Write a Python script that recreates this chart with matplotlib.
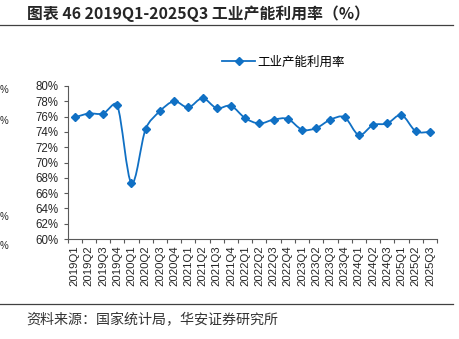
import numpy as np
import matplotlib
matplotlib.use('Agg')
from matplotlib import pyplot as plt
from matplotlib.path import Path
from matplotlib.patches import PathPatch
from matplotlib.lines import Line2D

quarters = ['2019Q1', '2019Q2', '2019Q3', '2019Q4',
            '2020Q1', '2020Q2', '2020Q3', '2020Q4',
            '2021Q1', '2021Q2', '2021Q3', '2021Q4',
            '2022Q1', '2022Q2', '2022Q3', '2022Q4',
            '2023Q1', '2023Q2', '2023Q3', '2023Q4',
            '2024Q1', '2024Q2', '2024Q3',
            '2025Q1', '2025Q2', '2025Q3']
utilization = [75.9, 76.4, 76.4, 77.5,
               67.3, 74.4, 76.7, 78.0,
               77.2, 78.4, 77.1, 77.4,
               75.8, 75.1, 75.6, 75.7,
               74.3, 74.5, 75.6, 75.9,
               73.6, 74.9, 75.1,
               76.2, 74.1, 74.0]
yticks = [60, 62, 64, 66, 68, 70, 72, 74, 76, 78, 80]

title = '图表 46 2019Q1-2025Q3 工业产能利用率（%）'
source = '资料来源：国家统计局，华安证券研究所'
series_name = '工业产能利用率'

blue = '#1070C4'
cjk = ['Noto Sans CJK SC', 'DejaVu Sans']
latin = ['Liberation Sans', 'DejaVu Sans']


def smooth_path(x, y, sx=14.2, sy=7.65, k=0.4):
    # catmull-rom beziers like excel's smoothed line, control arms capped
    # by the segment length so short segments do not overshoot
    pts = np.column_stack([np.asarray(x) * sx, np.asarray(y) * sy]).astype(float)
    n = len(pts)
    tang = [(pts[min(i + 1, n - 1)] - pts[max(i - 1, 0)]) / 6 for i in range(n)]
    verts = [pts[0]]
    codes = [Path.MOVETO]
    for i in range(n - 1):
        seg = np.hypot(*(pts[i + 1] - pts[i]))
        arms = []
        for t in (tang[i], tang[i + 1]):
            ln = np.hypot(*t)
            arms.append(t * min(1, k * seg / ln) if ln > 0 else t)
        verts += [pts[i] + arms[0], pts[i + 1] - arms[1], pts[i + 1]]
        codes += [Path.CURVE4] * 3
    verts = np.array(verts) / [sx, sy]
    return Path(verts, codes)


fig = plt.figure(figsize=(4.59, 3.39), dpi=100)
ax = fig.add_axes([67.5 / 459, 1 - 239 / 339, (437 - 67.5) / 459, (239 - 86) / 339])

x = np.arange(len(quarters))
ax.add_patch(PathPatch(smooth_path(x, utilization), fill=False,
                       edgecolor=blue, linewidth=1.3, zorder=3))
ax.plot(x, utilization, linestyle='none', marker='D', markersize=4.2,
        color=blue, zorder=4)

ax.set_xlim(-0.5, len(quarters) - 0.5)
ax.set_ylim(60, 80)
ax.set_yticks(yticks)
ax.set_yticklabels([f'{v}%' for v in yticks], family=latin, fontsize=8.3,
                   color='#262626')
ax.set_xticks(x)
ax.set_xticklabels(quarters, rotation=90, family=latin, fontsize=8.2,
                   color='#262626')
ax.set_xticks(np.arange(len(quarters) + 1) - 0.5, minor=True)
ax.tick_params(axis='x', which='major', length=0, pad=4.5)
ax.tick_params(axis='x', which='minor', length=3, width=0.8, color='#595959')
ax.tick_params(axis='y', length=3, width=0.8, color='#595959', pad=3.5)

for side in ['top', 'right']:
    ax.spines[side].set_visible(False)
for side in ['left', 'bottom']:
    ax.spines[side].set_color('#595959')
    ax.spines[side].set_linewidth(0.8)

handle = Line2D([], [], color=blue, linewidth=1.3, marker='D', markersize=4.2)
fig.legend([handle], [series_name], loc='center left',
           bbox_to_anchor=(216 / 459, 1 - 62 / 339), frameon=False,
           handlelength=2.6, handletextpad=0.2, borderpad=0,
           prop={'family': cjk, 'size': 9})

fig.text(27 / 459, 1 - 14 / 339, title, family=cjk, fontsize=11.4,
         fontweight='bold', color='#262626', ha='left', va='center')
fig.text(26 / 459, 1 - 320 / 339, source, family=cjk, fontsize=10.1,
         color='#333333', ha='left', va='center')

fig.add_artist(Line2D([0, 453 / 459], [1 - 25 / 339] * 2, color='#404040',
                      linewidth=0.9))
fig.add_artist(Line2D([0, 453 / 459], [1 - 303.5 / 339] * 2, color='#404040',
                      linewidth=0.9))

# leftover labels of the neighbouring chart on the left edge
for ypx in [90, 121, 217, 246]:
    fig.text(0, 1 - ypx / 339, '%', family=latin, fontsize=7,
             color='#262626', ha='left', va='center')

fig.savefig('out.png', dpi=100)
